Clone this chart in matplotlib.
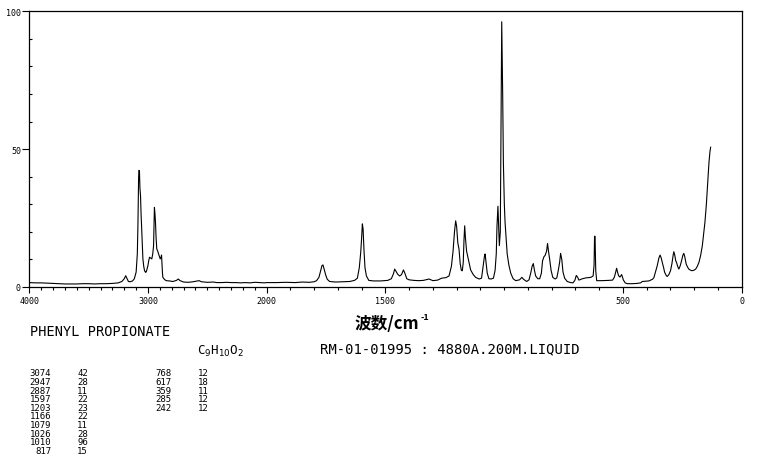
import numpy as np
import matplotlib
matplotlib.use("Agg")
import matplotlib.pyplot as plt
from matplotlib.ticker import FixedLocator, NullFormatter, FixedFormatter

# ---------------- data ----------------
wn_high = [4000, 3950, 3900, 3850, 3800, 3750, 3700, 3650, 3600, 3550, 3500, 3450, 3400, 3350, 3300,
           3250, 3220, 3200, 3188, 3178, 3165, 3150, 3130, 3115, 3100, 3090, 3085, 3079, 3076, 3072,
           3068, 3063, 3058, 3054, 3048, 3043, 3036, 3029, 3020, 3015, 3008, 3001, 2994, 2987, 2978,
           2968, 2960, 2953, 2949, 2946, 2942, 2937, 2932, 2926, 2918, 2911, 2903, 2897, 2890, 2886,
           2882, 2878, 2875, 2860, 2847, 2820, 2790, 2760, 2745, 2730, 2700, 2660, 2620, 2585, 2570,
           2550, 2500, 2450, 2420, 2380, 2340, 2300, 2260, 2220, 2180, 2140, 2100, 2060, 2020]
int_high = [1.6, 1.5, 1.5, 1.4, 1.3, 1.2, 1.1, 1.1, 1.1, 1.2, 1.2, 1.1, 1.2, 1.2, 1.3,
            1.5, 2.0, 3.0, 4.1, 3.2, 2.0, 1.9, 2.2, 3.0, 5.4, 12, 22, 40, 42.3, 42,
            36, 33, 26, 22, 15, 10.2, 7.5, 5.9, 5.3, 5.5, 6.5, 7.7, 9.5, 10.8, 10.5,
            10.2, 12, 15, 24, 28.9, 27, 23.5, 18, 13.8, 13, 12, 11, 10.2, 10.8, 11.6,
            8, 5, 3.5, 2.7, 2.3, 2.2, 2.0, 2.4, 2.9, 2.3, 1.8, 1.7, 1.9, 2.2, 2.3,
            1.9, 1.7, 1.8, 1.6, 1.6, 1.7, 1.6, 1.6, 1.5, 1.6, 1.5, 1.7, 1.6, 1.5]

wn_mid = [2000, 1960, 1920, 1880, 1850, 1820, 1800, 1790, 1780, 1773, 1767, 1763, 1758, 1752, 1745,
          1735, 1710, 1681, 1650, 1630, 1618, 1610, 1604, 1600, 1597, 1594, 1590, 1586, 1580, 1570,
          1550, 1520, 1490, 1475, 1466, 1461, 1456, 1448, 1440, 1432, 1424, 1418, 1410, 1400, 1380,
          1360, 1340, 1316, 1300, 1280, 1263, 1245, 1232, 1222, 1215, 1209, 1204, 1200, 1195, 1190,
          1185, 1180, 1176, 1172, 1169, 1166, 1163, 1158, 1153, 1147, 1141, 1130, 1120, 1105, 1095,
          1089, 1083, 1080, 1076, 1071, 1064, 1055, 1045, 1038, 1033, 1030, 1026, 1023, 1020, 1016,
          1013, 1010, 1006, 1003, 999, 996, 991, 987, 980, 972, 962, 951, 935, 925, 918,
          905, 895, 888, 882, 877, 872, 867, 858, 850, 843, 838, 832, 827, 821, 817,
          813, 808, 802, 795, 785, 778, 772, 766, 762, 757, 752, 745, 734, 720, 710,
          702, 696, 690]
int_mid = [1.6, 1.6, 1.7, 1.6, 1.8, 1.7, 1.9, 2.3, 3.5, 5.9, 7.8, 8.0, 6.5, 4.5, 2.8,
           2.0, 1.8, 1.9, 2.0, 2.4, 3.2, 7.0, 12.5, 18, 22.9, 21, 13, 7, 4.0, 2.4,
           2.2, 2.2, 2.4, 3.0, 4.8, 6.5, 5.8, 4.6, 4.0, 4.5, 6.2, 5.0, 3.0, 2.6, 2.4,
           2.3, 2.4, 2.9, 2.3, 2.5, 3.2, 3.4, 4.0, 7.5, 13, 20, 24, 22, 16, 13.8,
           8.5, 6.0, 5.9, 9, 17, 22.2, 18, 13, 11, 8.5, 6.2, 4.5, 3.5, 2.9, 3.2,
           7.1, 11, 12.0, 9, 5.0, 3.0, 2.9, 3.2, 6, 12, 22, 29.3, 22, 15, 20,
           60, 96.2, 70, 45, 30, 23.5, 17, 12, 8, 5.0, 3.0, 2.3, 2.6, 3.5, 2.8,
           2.0, 2.6, 5.0, 7.5, 8.5, 6, 4.0, 3.0, 3.0, 5, 9.5, 11, 11.5, 13, 15.8,
           13, 10.0, 6, 3.5, 2.9, 3.3, 5.9, 9, 12.2, 10, 5.5, 3.2, 2.0, 1.6, 1.5,
           2.4, 4.2, 3.5]

wn_low = [685, 670, 656, 635, 625, 621, 619, 617, 614, 610, 590, 560, 543, 536, 532,
          526, 521, 517, 512, 505, 501, 498, 490, 481, 460, 440, 425, 418, 390, 375,
          369, 362, 355, 348, 343, 338, 334, 328, 324, 318, 313, 306, 299, 293, 288,
          285, 281, 277, 274, 269, 264, 259, 254, 247, 243, 239, 233, 227, 222, 215,
          208, 200, 193, 186, 179, 172, 165, 160, 154, 148, 144, 140, 137, 133, 130]
int_low = [2.5, 3.0, 3.3, 3.5, 4.0, 8, 18.4, 18.4, 6, 2.3, 2.3, 2.4, 2.5, 3.5, 4.7,
           6.8, 5.0, 4.0, 3.6, 4.5, 3.5, 2.6, 1.5, 1.2, 1.2, 1.3, 1.5, 2.0, 2.2, 2.8,
           3.4, 5.5, 7.7, 10.5, 11.6, 10.5, 9.0, 7, 5.4, 4.3, 3.8, 4.5, 5.9, 8.5, 11.5,
           12.8, 11.5, 9.5, 9.0, 7.5, 6.5, 7.5, 9.0, 11.5, 12.2, 11, 8.3, 7.2, 6.5, 6.1,
           5.9, 6.1, 6.5, 7.5, 9.0, 11.5, 15, 19, 23.5, 30, 35.5, 41, 45.2, 49, 50.7]

x_major = [4000, 3000, 2000, 1500, 500, 0]
x_labels = ["4000", "3000", "2000", "1500", "500", "0"]
y_major = [0, 50, 100]

compound = "PHENYL PROPIONATE"
formula = r"C$_9$H$_{10}$O$_2$"
sample_info = "RM-01-01995 : 4880A.200M.LIQUID"
xlabel_main = "波数/cm"
xlabel_sup = "-1"

peak_wn_1 = ["3074", "2947", "2887", "1597", "1203", "1166", "1079", "1026", "1010", "817"]
peak_int_1 = ["42", "28", "11", "22", "23", "22", "11", "28", "96", "15"]
peak_wn_2 = ["768", "617", "359", "285", "242"]
peak_int_2 = ["12", "18", "11", "12", "12"]

# ---------------- figure ----------------
W, H = 761, 477
fig = plt.figure(figsize=(W / 100, H / 100), dpi=100)
L, R, T, B = 29.3, 741.5, 12.3, 288.0
ax = fig.add_axes([L / W, 1 - B / H, (R - L) / W, (B - T) / H])

def fwd(x):
    x = np.asarray(x, dtype=float)
    return np.where(x > 2000, 2000 + (x - 2000) / 2.0, x)

def inv(t):
    t = np.asarray(t, dtype=float)
    return np.where(t > 2000, 2000 + (t - 2000) * 2.0, t)

ax.set_xscale("function", functions=(fwd, inv))

wn = wn_high + wn_mid + wn_low
inten = int_high + int_mid + int_low
ax.plot(wn, inten, color="black", lw=0.8)

ax.set_xlim(4000, 0)
ax.set_ylim(0, 100)

mono = "DejaVu Sans Mono"
ax.xaxis.set_major_locator(FixedLocator(x_major))
ax.xaxis.set_major_formatter(FixedFormatter(x_labels))
minor_x = [v for v in range(0, 4001, 100) if v not in x_major]
ax.xaxis.set_minor_locator(FixedLocator(minor_x))
ax.xaxis.set_minor_formatter(NullFormatter())
ax.tick_params(axis="x", which="major", direction="out", length=4, width=0.8,
               labelsize=6, pad=2.5)
ax.tick_params(axis="x", which="minor", direction="out", length=2, width=0.8)

ax.yaxis.set_major_locator(FixedLocator(y_major))
ax.yaxis.set_minor_locator(FixedLocator([v for v in range(10, 100, 10) if v != 50]))
ax.yaxis.set_minor_formatter(NullFormatter())
ax.tick_params(axis="y", which="major", direction="out", length=5, width=0.8,
               labelsize=6, pad=1)
ax.tick_params(axis="y", which="minor", direction="in", length=1.8, width=0.8)
for lab in ax.get_xticklabels() + ax.get_yticklabels():
    lab.set_fontfamily(mono)
for sp in ax.spines.values():
    sp.set_linewidth(0.9)

def px(x, y):
    return x / W, 1 - y / H

cjk = ["Noto Sans CJK SC", "DejaVu Sans"]
t_main = fig.text(*px(355, 324), xlabel_main, family=cjk, fontsize=12,
                  fontweight="bold", va="center", ha="left")
fig.canvas.draw()
bb = t_main.get_window_extent(renderer=fig.canvas.get_renderer())
fig.text((bb.x1 + 1) / W, 1 - 318 / H, xlabel_sup, family=cjk, fontsize=6.5,
         fontweight="bold", va="center", ha="left")

fig.text(*px(30, 332), compound, family=mono, fontsize=9.8, va="center", ha="left")
fig.text(*px(197, 351), formula, family=mono, fontsize=9, va="center", ha="left")
fig.text(*px(320, 349), sample_info, family=mono, fontsize=10, va="center", ha="left")

row0, dy = 374.0, 8.6
for i, (a, b) in enumerate(zip(peak_wn_1, peak_int_1)):
    y = row0 + dy * i
    fig.text(*px(51, y), a, family=mono, fontsize=6.5, va="center", ha="right")
    fig.text(*px(77, y), b, family=mono, fontsize=6.5, va="center", ha="left")
for i, (a, b) in enumerate(zip(peak_wn_2, peak_int_2)):
    y = row0 + dy * i
    fig.text(*px(171, y), a, family=mono, fontsize=6.5, va="center", ha="right")
    fig.text(*px(198, y), b, family=mono, fontsize=6.5, va="center", ha="left")

fig.savefig("out.png", dpi=100)
